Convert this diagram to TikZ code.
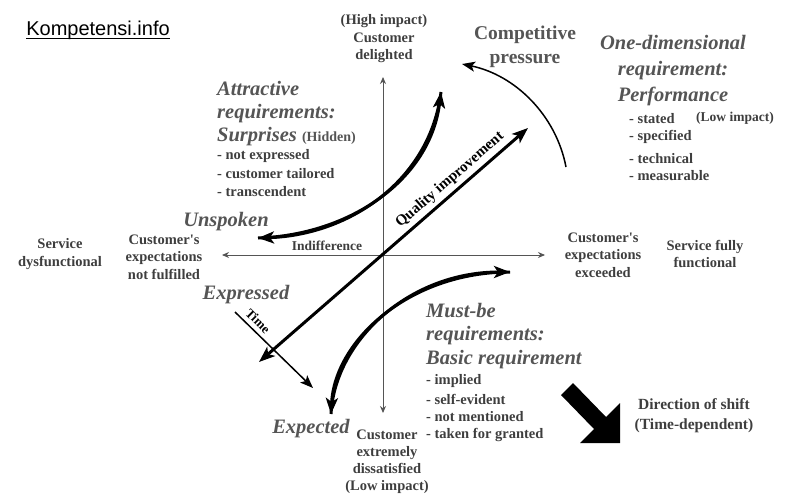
\documentclass[tikz,border=0pt]{standalone}
\usepackage{fontspec}
\setmainfont{Liberation Serif}[Ligatures=TeXOff]
\newfontfamily\arialfont{Liberation Sans}
\usetikzlibrary{arrows.meta}
\definecolor{txtgray}{HTML}{3E3E3E}
\definecolor{ttlgray}{HTML}{555555}
\definecolor{axgray}{HTML}{555555}
\begin{document}
\begin{tikzpicture}[x=1pt,y=-1pt,
  lbl/.style={inner sep=0pt,text=txtgray,font=\bfseries\fontsize{14.5}{17.5}\selectfont,align=center},
  lst/.style={inner sep=0pt,text=txtgray,font=\bfseries\fontsize{14.5}{18}\selectfont,align=left,anchor=west},
  ttl/.style={inner sep=0pt,text=ttlgray,font=\bfseries\itshape\fontsize{20.5}{23}\selectfont,align=left},
  axis/.style={draw=axgray,line width=0.9pt,-{Stealth[length=7pt,width=6pt]}},
  thick arrow/.style={line width=3pt,{Stealth[length=16pt,width=12pt,inset=4pt]}-{Stealth[length=16pt,width=12pt,inset=4pt]}},
  one arrow/.style={line width=3pt,-{Stealth[length=16pt,width=12pt,inset=4pt]}},
  thin arrow/.style={line width=1.5pt,-{Stealth[length=13pt,width=10pt,inset=3pt]}}
]
\useasboundingbox (0,0) rectangle (794,503);
\fill[white] (0,0) rectangle (794,503);

% watermark
\node[inner sep=0pt,font=\arialfont\fontsize{20}{24}\selectfont] (kom) at (98,30) {Kompetensi.info};
\draw[line width=1.3pt] ([yshift=-3.5pt]kom.base west) -- ([yshift=-3.5pt]kom.base east);

% axes
\coordinate (O) at (383,255);
\coordinate (atop) at (383,77);
\coordinate (abot) at (383,413);
\coordinate (aleft) at (222,255);
\coordinate (aright) at (545,255);
\draw[axis] (O) -- (atop);
\draw[axis] (O) -- (abot);
\draw[axis] (O) -- (aleft);
\draw[axis] (O) -- (aright);

% quality improvement
\coordinate (qa) at (259,362);
\coordinate (qb) at (528,128);
\draw[thick arrow] (qa) -- (qb);
\node[inner sep=0pt,rotate=41,font=\bfseries\fontsize{15}{17}\selectfont] (qi) at (450,180) {Quality improvement};

% attractive curve
\coordinate (at1) at (441,92);
\coordinate (at2) at (258,238);
\draw[one arrow] (at1) .. controls (430,180) and (350,235) .. (at2);
\draw[one arrow] (at2) .. controls (350,235) and (430,180) .. (at1);

% must-be curve
\coordinate (mb1) at (510,272);
\coordinate (mb2) at (331,414);
\draw[one arrow] (mb1) .. controls (410,272) and (335,340) .. (mb2);
\draw[one arrow] (mb2) .. controls (335,340) and (410,272) .. (mb1);

% competitive pressure arc
\coordinate (cp1) at (566,167);
\coordinate (cp2) at (462,64);
\draw[thin arrow] (cp1) .. controls (556,115) and (515,75) .. (cp2);

% time arrow
\coordinate (t1) at (235,312);
\coordinate (t2) at (313,388);
\draw[thin arrow] (t1) -- (t2);
\node[inner sep=0pt,rotate=-45,font=\bfseries\fontsize{13}{15}\selectfont] (time) at (258,321) {Time};

% direction of shift arrow
\fill[black] (573,383) -- (606,417) -- (620,403) -- (620,443) -- (580,443) -- (594,429) -- (561,395) -- cycle;
\node[lbl,font=\bfseries\fontsize{15.5}{20}\selectfont] (dir) at (694,416) {Direction of shift\\(Time-dependent)};

% axis labels
\node[lbl] (hi) at (384,39) {(High impact)\\Customer\\delighted};
\node[lbl,font=\bfseries\fontsize{14.5}{17}\selectfont] (lo) at (387,462) {Customer\\extremely\\dissatisfied\\(Low impact)};
\node[lbl] (sd) at (60,254) {Service\\dysfunctional};
\node[lbl] (nf) at (164,257) {Customer's\\expectations\\not fulfilled};
\node[lbl,font=\bfseries\fontsize{13.5}{16}\selectfont] (ind) at (327,246) {Indifference};
\node[lbl] (ex) at (603,255) {Customer's\\expectations\\exceeded};
\node[lbl] (sf) at (705,254) {Service fully\\functional};

% competitive pressure
\node[lbl,text=ttlgray,font=\bfseries\fontsize{19.5}{24}\selectfont] (comp) at (525,47) {Competitive\\pressure};

% attractive
\node[ttl,anchor=north west] (attr) at (217,81) {Attractive\\requirements:\\Surprises {\upshape\fontsize{14}{16}\selectfont(Hidden)}};
\node[lst] (al1) at (217,156) {- not expressed};
\node[lst] (al2) at (217,174) {- customer tailored};
\node[lst] (al3) at (217,192) {- transcendent};
\node[ttl] (unsp) at (226,222) {Unspoken};

% one-dimensional
\node[ttl,align=center,font=\bfseries\itshape\fontsize{20.5}{26}\selectfont] (one) at (673,71) {One-dimensional\\requirement:\\Performance};
\node[lst] (ol1) at (629,119) {- stated};
\node[lst] (ol2) at (629,137) {- specified};
\node[lst] (ol3) at (629,159) {- technical};
\node[lst] (ol4) at (629,176) {- measurable};
\node[lbl,font=\bfseries\fontsize{13.5}{16}\selectfont] (lowi) at (735,118) {(Low impact)};

% must-be
\node[ttl,anchor=north west,font=\bfseries\itshape\fontsize{20.5}{23.5}\selectfont] (must) at (426,303) {Must-be\\requirements:\\Basic requirement};
\node[lst] (ml1) at (426,381) {- implied};
\node[lst] (ml2) at (426,399) {- self-evident};
\node[lst] (ml3) at (426,417) {- not mentioned};
\node[lst] (ml4) at (426,435) {- taken for granted};

% expressed / expected
\node[ttl] (expr) at (246,295) {Expressed};
\node[ttl] (expe) at (311,429) {Expected};
\end{tikzpicture}
\end{document}
